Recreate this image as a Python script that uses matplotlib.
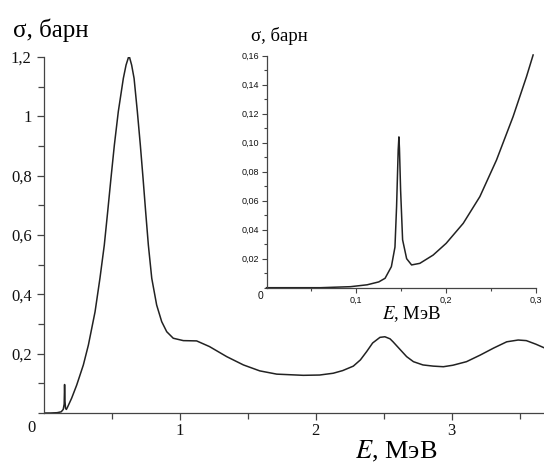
import matplotlib.pyplot as plt
from matplotlib.ticker import MultipleLocator, FixedLocator

plt.rcParams['font.family'] = ['Liberation Serif', 'DejaVu Serif']
plt.rcParams['mathtext.fontset'] = 'stix'

# main curve, E in MeV, sigma in barn
energy = [0.0, 0.05, 0.10, 0.13, 0.145, 0.152, 0.155, 0.158, 0.162, 0.168, 0.175,
          0.207, 0.244, 0.293, 0.330, 0.379, 0.415, 0.447, 0.472, 0.496, 0.521,
          0.550, 0.587, 0.607, 0.629, 0.648, 0.666, 0.690, 0.712, 0.732, 0.751,
          0.771, 0.796, 0.832, 0.869, 0.906, 0.954, 1.028, 1.126, 1.22, 1.347,
          1.47, 1.59, 1.715, 1.91, 2.03, 2.13, 2.20, 2.278, 2.33, 2.376, 2.42,
          2.474, 2.51, 2.548, 2.57, 2.62, 2.67, 2.72, 2.79, 2.866, 2.94, 3.01,
          3.11, 3.21, 3.31, 3.406, 3.49, 3.55, 3.62, 3.68]
sigma = [0.0, 0.0, 0.001, 0.004, 0.012, 0.03, 0.096, 0.04, 0.016, 0.012, 0.018,
         0.050, 0.094, 0.162, 0.229, 0.341, 0.454, 0.566, 0.679, 0.791, 0.903,
         1.016, 1.128, 1.173, 1.205, 1.173, 1.128, 1.016, 0.903, 0.791, 0.679,
         0.566, 0.454, 0.364, 0.308, 0.274, 0.252, 0.244, 0.243, 0.224, 0.19,
         0.162, 0.142, 0.131, 0.127, 0.128, 0.134, 0.143, 0.158, 0.179, 0.207, 0.236,
         0.255, 0.257, 0.25, 0.240, 0.215, 0.19, 0.173, 0.162, 0.158, 0.156, 0.161,
         0.173, 0.195, 0.219, 0.240, 0.246, 0.244, 0.232, 0.22]

# inset, low-energy part
energy_in = [0.0, 0.06, 0.0935, 0.112, 0.125, 0.132, 0.139, 0.143, 0.1448, 0.1466,
             0.1474, 0.148, 0.1493, 0.1515, 0.156, 0.1615, 0.1707, 0.1855, 0.200,
             0.219, 0.2375, 0.256, 0.2745, 0.2894, 0.2968]
sigma_in = [0.0, 0.0, 0.0007, 0.002, 0.004, 0.0065, 0.0145, 0.028, 0.056, 0.095,
            0.104, 0.096, 0.067, 0.033, 0.020, 0.0157, 0.0168, 0.0225, 0.0306,
            0.0444, 0.0628, 0.088, 0.118, 0.1455, 0.1605]

main_yticks = [0.2, 0.4, 0.6, 0.8, 1.0, 1.2]
main_ylabels = ['0,2', '0,4', '0,6', '0,8', '1', '1,2']
main_xticks = [1, 2, 3]
inset_yticks = [0.02, 0.04, 0.06, 0.08, 0.10, 0.12, 0.14, 0.16]
inset_ylabels = ['0,02', '0,04', '0,06', '0,08', '0,10', '0,12', '0,14', '0,16']
inset_xticks = [0.1, 0.2, 0.3]
inset_xlabels = ['0,1', '0,2', '0,3']

W, H = 544, 463
fig = plt.figure(figsize=(W / 100, H / 100), dpi=100)

def box(x0, y0, x1, y1):
    # pixel box (top-left origin) -> figure fraction
    return [x0 / W, 1 - y1 / H, (x1 - x0) / W, (y1 - y0) / H]

lc = '#222222'

ax = fig.add_axes(box(43.5, 57, 544, 413))
ax.plot(energy, sigma, color=lc, lw=1.1)
ax.set_xlim(0, 3.68)
ax.set_ylim(0, 1.2)
for s in ['top', 'right']:
    ax.spines[s].set_visible(False)
for s in ['left', 'bottom']:
    ax.spines[s].set_color('#444444')
    ax.spines[s].set_linewidth(0.9)
ax.yaxis.set_major_locator(FixedLocator(main_yticks))
ax.set_yticklabels(main_ylabels)
ax.yaxis.set_minor_locator(MultipleLocator(0.1))
ax.xaxis.set_major_locator(FixedLocator(main_xticks))
ax.set_xticklabels(['1', '2', '3'])
ax.xaxis.set_minor_locator(FixedLocator([0.5, 1.5, 2.5, 3.5]))
ax.tick_params(which='both', direction='out', colors='#444444', labelcolor='#111111',
               labelsize=12)
ax.tick_params(which='major', length=5, width=0.9)
ax.tick_params(which='minor', length=4, width=0.9)
ax.tick_params(axis='x', pad=2)

fig.text(32 / W, 1 - 428 / H, '0', fontsize=12, ha='center', va='center', color='#111111')
fig.text(13 / W, 1 - 37 / H, 'σ, барн', fontsize=18, ha='left', va='baseline')
fig.text(355 / W, 1 - 458 / H, '$E$, МэВ', fontsize=19, ha='left', va='baseline')

# inset
axi = fig.add_axes(box(266.5, 55.7, 536, 287.7))
axi.plot(energy_in, sigma_in, color=lc, lw=1.1, clip_on=False)
axi.set_xlim(0, 0.3)
axi.set_ylim(0, 0.16)
axi.patch.set_facecolor('white')
for s in ['top', 'right']:
    axi.spines[s].set_visible(False)
for s in ['left', 'bottom']:
    axi.spines[s].set_color('#444444')
    axi.spines[s].set_linewidth(0.9)
axi.yaxis.set_major_locator(FixedLocator(inset_yticks))
axi.set_yticklabels(inset_ylabels)
axi.yaxis.set_minor_locator(MultipleLocator(0.01))
axi.xaxis.set_major_locator(FixedLocator(inset_xticks))
axi.set_xticklabels(inset_xlabels)
axi.xaxis.set_minor_locator(FixedLocator([0.05, 0.15, 0.25]))
axi.tick_params(which='both', direction='out', colors='#444444', labelcolor='#111111',
                labelsize=6.5, pad=2)
axi.tick_params(which='major', length=3.5, width=0.8)
axi.tick_params(which='minor', length=2.5, width=0.8)
for lab in axi.get_xticklabels() + axi.get_yticklabels():
    lab.set_family('Liberation Sans')

fig.text(260 / W, 1 - 296 / H, '0', fontsize=7.5, ha='center', va='center',
         color='#111111', family='Liberation Sans')
fig.text(251 / W, 1 - 41 / H, 'σ, барн', fontsize=13.5, ha='left', va='baseline')
fig.text(382 / W, 1 - 319 / H, '$E$, МэВ', fontsize=13.5, ha='left', va='baseline')

fig.savefig('out.png', dpi=100)
